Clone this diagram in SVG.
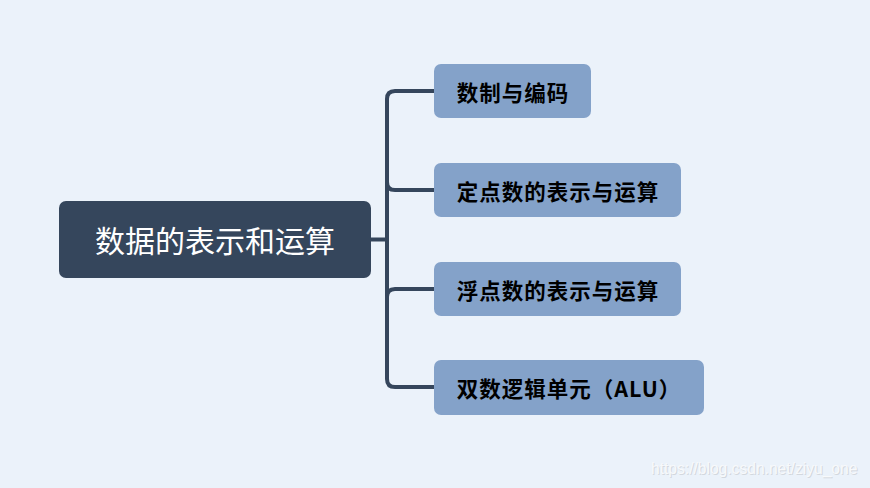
<svg xmlns="http://www.w3.org/2000/svg" width="870" height="488" viewBox="0 0 870 488">
<style>
.bg{fill:#ebf2fa}
.root rect{fill:#35465c}
.root text{fill:#ffffff;font-family:"Noto Sans CJK SC","Noto Sans",sans-serif;font-size:30px;text-anchor:middle;dominant-baseline:central}
.child rect{fill:#84a2c9}
.child text{fill:#000000;font-family:"Noto Sans CJK SC","Noto Sans",sans-serif;font-size:21.5px;font-weight:bold;letter-spacing:1px;text-anchor:middle;dominant-baseline:central}
.conn path{fill:none;stroke:#35465c;stroke-width:4;stroke-linecap:butt}
.wm{font-family:"Liberation Sans",Arial,sans-serif;font-size:15.6px}
</style>
<rect class="bg" x="0" y="0" width="870" height="488"/>
<g id="connectors" class="conn">
<path d="M371,239.5 H387"/>
<path d="M434,91 H395 Q387,91 387,99 V379 Q387,387 395,387 H434"/>
<path d="M387,182 Q387,190 395,190 H434"/>
<path d="M387,297 Q387,289 395,289 H434"/>
</g>
<g id="root" class="root">
<rect x="59" y="201" width="312" height="77" rx="7"/>
<text x="215" y="239">数据的表示和运算</text>
</g>
<g id="n1" class="child">
<rect x="434" y="64" width="157" height="54" rx="7"/>
<text x="513" y="91">数制与编码</text>
</g>
<g id="n2" class="child">
<rect x="434" y="163" width="247" height="54" rx="7"/>
<text x="558" y="190">定点数的表示与运算</text>
</g>
<g id="n3" class="child">
<rect x="434" y="262" width="247" height="54" rx="7"/>
<text x="558" y="289">浮点数的表示与运算</text>
</g>
<g id="n4" class="child">
<rect x="434" y="360" width="270" height="55" rx="7"/>
<text x="569" y="387">双数逻辑单元（ALU）</text>
</g>
<g id="watermark" class="wm">
<text x="652" y="475" fill="#d3d8de">https://blog.csdn.net/ziyu_one</text>
<text x="651" y="474" fill="#f7f9fb">https://blog.csdn.net/ziyu_one</text>
</g>
</svg>
